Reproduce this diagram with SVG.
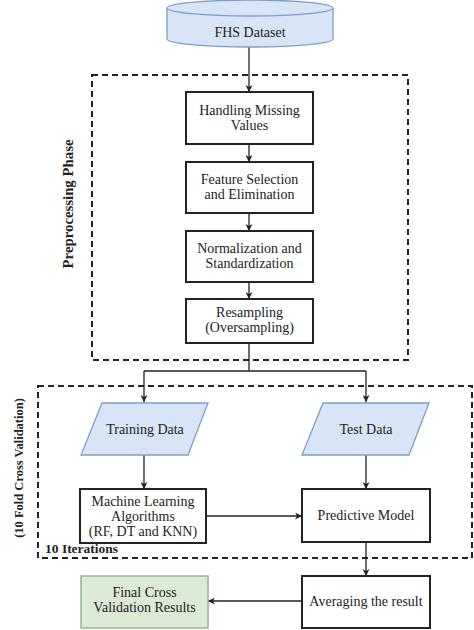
<svg xmlns="http://www.w3.org/2000/svg" width="474" height="630" viewBox="0 0 474 630">
<defs>
<marker id="ah" viewBox="0 0 10 10" refX="10" refY="5" markerWidth="7" markerHeight="7" orient="auto" markerUnits="userSpaceOnUse">
<path d="M0,0 L10,5 L0,10 L3,5 Z" fill="#222"/>
</marker>
<style>
.box{fill:#fff;stroke:#222;stroke-width:2}
.data{fill:#d7e5f6;stroke:#7e9ec8;stroke-width:1.3}
.fin{fill:#dce9d5;stroke:#93b886;stroke-width:1.5}
.dash{fill:none;stroke:#222;stroke-width:2;stroke-dasharray:6 4}
.t{font-family:"Liberation Serif","Times New Roman",serif;font-size:14px;fill:#222;text-anchor:middle}
.b{font-family:"Liberation Serif","Times New Roman",serif;font-weight:bold;fill:#222}
.ln{fill:none;stroke:#222;stroke-width:1.3}
</style>
</defs>
<rect width="474" height="630" fill="#fff"/>
<g id="groups">
<rect class="dash" x="92" y="75" width="316" height="285"/>
<rect class="dash" x="38" y="386" width="434" height="172"/>
<text class="b" font-size="14.8" text-anchor="middle" transform="translate(73,204) rotate(-90)">Preprocessing Phase</text>
<text class="b" font-size="12.5" text-anchor="middle" transform="translate(23,468) rotate(-90)">(10 Fold Cross Validation)</text>
<text class="b" x="45" y="553" font-size="13.5">10 Iterations</text>
</g>
<g id="connectors">
<path class="ln" d="M249,47 V92" marker-end="url(#ah)"/>
<path class="ln" d="M249,144 V162" marker-end="url(#ah)"/>
<path class="ln" d="M249,213 V231" marker-end="url(#ah)"/>
<path class="ln" d="M249,282 V299" marker-end="url(#ah)"/>
<path class="ln" d="M249,343 V371 M144,371 H366"/>
<path class="ln" d="M144,371 V402" marker-end="url(#ah)"/>
<path class="ln" d="M366,371 V402" marker-end="url(#ah)"/>
<path class="ln" d="M144,455 V489" marker-end="url(#ah)"/>
<path class="ln" d="M366,455 V489" marker-end="url(#ah)"/>
<path class="ln" d="M206,516 H302" marker-end="url(#ah)"/>
<path class="ln" d="M366,542 V576" marker-end="url(#ah)"/>
<path class="ln" d="M302,601 H208" marker-end="url(#ah)"/>
</g>
<g id="fhs">
<path class="data" d="M167,8 V39 A83,8 0 0 0 333,39 V8"/>
<ellipse class="data" cx="250" cy="8" rx="83" ry="8"/>
<text class="t" x="250" y="37">FHS Dataset</text>
</g>
<g id="missing">
<rect class="box" x="186" y="92" width="127" height="52"/>
<text class="t" x="249.5" y="115">Handling Missing</text>
<text class="t" x="249.5" y="130">Values</text>
</g>
<g id="feature">
<rect class="box" x="186" y="162" width="127" height="51"/>
<text class="t" x="249.5" y="184">Feature Selection</text>
<text class="t" x="249.5" y="199">and Elimination</text>
</g>
<g id="normal">
<rect class="box" x="186" y="231" width="127" height="51"/>
<text class="t" x="249.5" y="253">Normalization and</text>
<text class="t" x="249.5" y="268">Standardization</text>
</g>
<g id="resample">
<rect class="box" x="186" y="299" width="127" height="44"/>
<text class="t" x="249.5" y="317">Resampling</text>
<text class="t" x="249.5" y="332">(Oversampling)</text>
</g>
<g id="train">
<polygon class="data" points="102,403 208,403 188,455 81,455"/>
<text class="t" x="145" y="434">Training Data</text>
</g>
<g id="test">
<polygon class="data" points="323,403 429,403 409,455 302,455"/>
<text class="t" x="366" y="434">Test Data</text>
</g>
<g id="ml">
<rect class="box" x="80" y="489" width="126" height="54"/>
<text class="t" x="143" y="506">Machine Learning</text>
<text class="t" x="143" y="521">Algorithms</text>
<text class="t" x="143" y="536">(RF, DT and KNN)</text>
</g>
<g id="pred">
<rect class="box" x="302" y="489" width="128" height="53"/>
<text class="t" x="366" y="520">Predictive Model</text>
</g>
<g id="avg">
<rect class="box" x="302" y="576" width="128" height="52"/>
<text class="t" x="366" y="606">Averaging the result</text>
</g>
<g id="final">
<rect class="fin" x="81" y="576" width="127" height="52"/>
<text class="t" x="144.5" y="597">Final Cross</text>
<text class="t" x="144.5" y="612">Validation Results</text>
</g>
</svg>
